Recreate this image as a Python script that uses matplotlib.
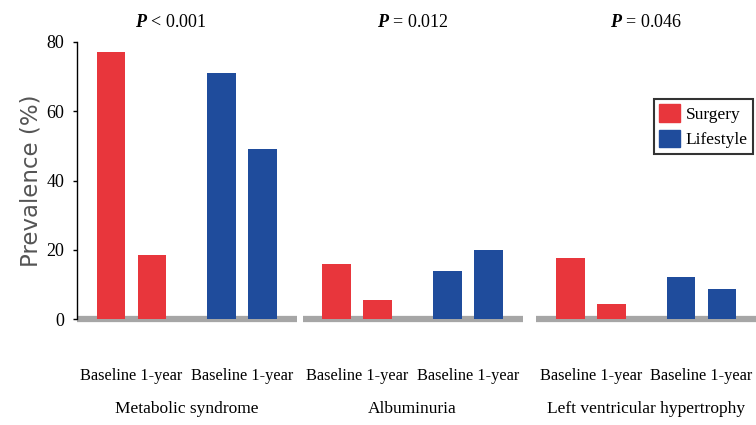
import matplotlib
matplotlib.use("Agg")
import matplotlib.pyplot as plt
from matplotlib.patches import Patch

# Prevalence (%) at baseline and after 1 year
conditions = ["Metabolic syndrome", "Albuminuria", "Left ventricular hypertrophy"]
p_values = ["< 0.001", "= 0.012", "= 0.046"]
pair_label = "Baseline 1-year"
surgery = [[77, 18.5], [16, 5.5], [17.5, 4.3]]
lifestyle = [[71, 49], [14, 20], [12, 8.7]]

RED = "#e8363c"
BLUE = "#1f4c9c"

plt.rcParams["font.family"] = ["Liberation Serif", "DejaVu Serif"]
plt.rcParams["mathtext.fontset"] = "custom"
plt.rcParams["mathtext.it"] = "Liberation Serif:italic:bold"
plt.rcParams["mathtext.rm"] = "Liberation Serif"

fig = plt.figure(figsize=(7.56, 4.25), dpi=100)
ax = fig.add_axes([77 / 756, 106 / 425, 679 / 756, 277 / 425])

group_start = [0, 5.5, 11.2]
inner = [0, 1.0, 2.7, 3.7]
width = 0.7

tick_pos, tick_lab = [], []
for g, start in enumerate(group_start):
    xs = [start + d for d in inner]
    ax.bar(xs[:2], surgery[g], width=width, color=RED, zorder=3)
    ax.bar(xs[2:], lifestyle[g], width=width, color=BLUE, zorder=3)
    tick_pos += [(xs[0] + xs[1]) / 2, (xs[2] + xs[3]) / 2]
    tick_lab += [pair_label, pair_label]
    # grey zero line, broken between groups
    ax.hlines(0, start - 0.83, start + 4.54, color="#a6a6a6", lw=4.5,
              zorder=2, clip_on=False)
    centre = start + 1.85
    px = centre - 0.4 if g == 0 else centre
    ax.text(px, 85.5, f"$P$ {p_values[g]}", ha="center", va="center",
            fontsize=13)
    ax.text(centre, -26, conditions[g], ha="center", va="center",
            fontsize=12.5)

ax.set_xlim(-0.83, 15.73)
ax.set_ylim(0, 80)
ax.set_xticks(tick_pos)
ax.set_xticklabels(tick_lab, fontsize=11.8)
ax.tick_params(axis="x", length=0, pad=35)
ax.set_yticks([0, 20, 40, 60, 80])
ax.tick_params(axis="y", labelsize=13, length=3, width=1, pad=6)

for side in ["top", "right", "bottom"]:
    ax.spines[side].set_visible(False)
ax.spines["left"].set_linewidth(1)
ax.spines["left"].set_bounds(0, 80)

ax.set_ylabel("Prevalence (%)", fontsize=16.5, color="#555555", labelpad=3,
              family="DejaVu Sans")

handles = [Patch(color=RED, label="Surgery"), Patch(color=BLUE, label="Lifestyle")]
leg = ax.legend(handles=handles, loc="upper right", bbox_to_anchor=(0.995, 0.795),
                fontsize=12.5, frameon=True, fancybox=False, handlelength=1.2,
                handleheight=1.2, handletextpad=0.3, borderpad=0.3,
                labelspacing=0.4, borderaxespad=0)
leg.get_frame().set_edgecolor("black")
leg.get_frame().set_linewidth(1.5)

fig.savefig("out.png", dpi=100)
